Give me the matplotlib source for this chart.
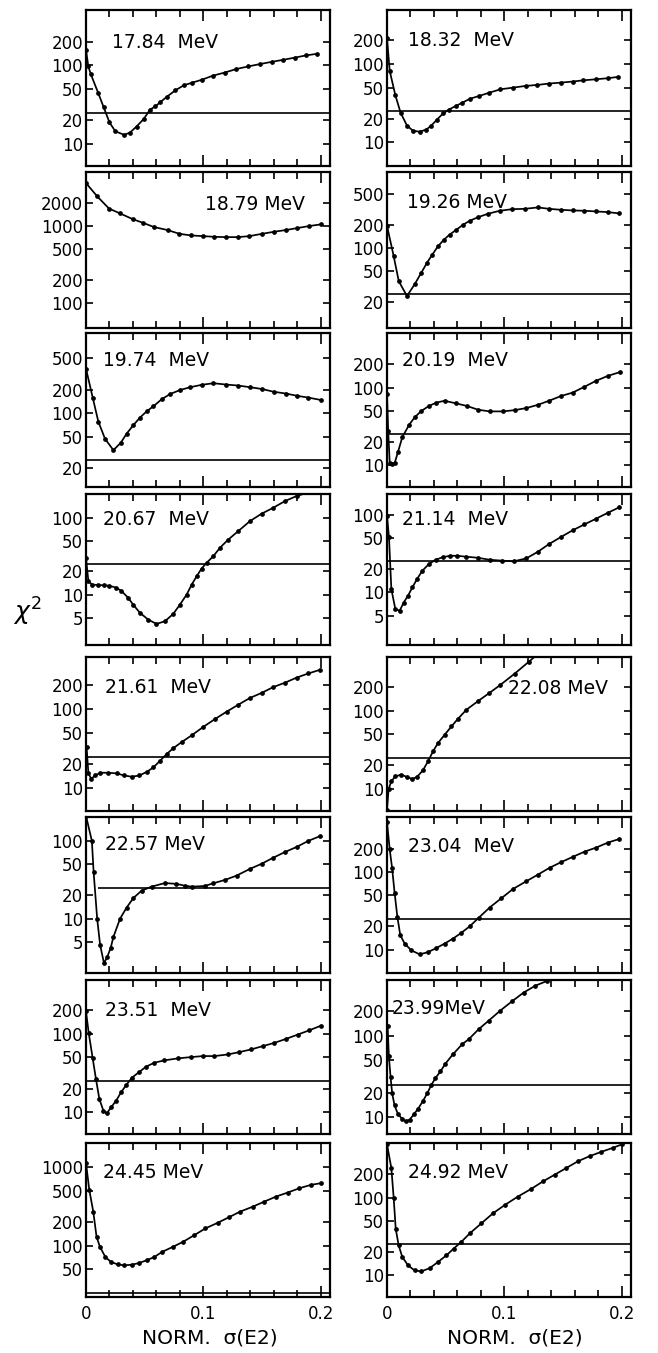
import matplotlib
matplotlib.use('Agg')
import matplotlib.pyplot as plt
from matplotlib.ticker import FixedLocator, NullLocator, MultipleLocator, NullFormatter

plt.rcParams['font.family'] = ['DejaVu Sans']

CHI2_LIMIT = 25.0

# ---------------- data ----------------
# left column
x_1784 = [0, 0.002, 0.004, 0.0105, 0.015, 0.02, 0.025, 0.0325, 0.0375, 0.043, 0.049, 0.0545, 0.059, 0.063,
          0.069, 0.076, 0.083, 0.09, 0.0985, 0.108, 0.118, 0.128, 0.138, 0.148, 0.158, 0.168, 0.178, 0.187, 0.197]
chi_1784 = [158, 97, 78, 44, 29.4, 18.7, 14.4, 13.0, 13.9, 16.6, 20.6, 27.2, 30, 33.7,
            40, 48, 55.5, 60, 65.6, 74, 81, 90, 97, 104, 111, 118, 126, 134, 141]

x_1879 = [0, 0.0096, 0.0196, 0.0287, 0.0401, 0.0482, 0.0579, 0.0695, 0.0794, 0.0894, 0.0993, 0.109, 0.119,
          0.129, 0.139, 0.150, 0.160, 0.170, 0.180, 0.190, 0.200]
chi_1879 = [3600, 2414, 1683, 1463, 1222, 1105, 970, 887, 794, 756, 741, 726, 719,
            719, 740, 794, 843, 887, 942, 1000, 1051]

x_1974 = [0, 0.0057, 0.0105, 0.0162, 0.0233, 0.0295, 0.0346, 0.0403, 0.046, 0.0516, 0.0573, 0.0644, 0.0715,
          0.080, 0.0885, 0.0985, 0.1084, 0.119, 0.1296, 0.140, 0.150, 0.160, 0.170, 0.180, 0.189, 0.2]
chi_1974 = [370, 158, 77.6, 46.8, 33.5, 41.4, 54.5, 70, 87.7, 105, 122, 150, 175,
            197, 214, 230, 241, 232, 225, 214, 203, 187, 178, 166, 158, 147]

x_2067 = [0, 0.002, 0.005, 0.01, 0.015, 0.02, 0.0255, 0.03, 0.0359, 0.0401, 0.0458, 0.0529, 0.06, 0.0672,
          0.0743, 0.08, 0.0857, 0.09, 0.0942, 0.0984, 0.1027, 0.1084, 0.114, 0.1211, 0.1296, 0.1396, 0.1495,
          0.1594, 0.1694, 0.1793, 0.19, 0.2]
chi_2067 = [30, 15, 13.5, 13.3, 13.2, 13.0, 12.3, 11.2, 9.06, 7.4, 5.8, 4.72, 4.14, 4.49,
            5.6, 7.4, 10, 13.5, 17.3, 21.8, 25.9, 31.6, 40.6, 52, 67, 90.5, 113,
            135, 165, 192, 215, 240]

x_2161 = [0.0005, 0.002, 0.0043, 0.008, 0.0119, 0.019, 0.0264, 0.0324, 0.039, 0.0455, 0.0517, 0.0573, 0.063,
          0.0687, 0.0743, 0.0814, 0.0899, 0.0999, 0.1098, 0.1197, 0.1296, 0.1396, 0.1495, 0.1594, 0.1694,
          0.1793, 0.1892, 0.1991]
chi_2161 = [33, 15.6, 13.1, 14.4, 15.6, 15.6, 15.3, 14.4, 13.9, 14.4, 16, 18.2, 22.1,
            27, 32, 38.2, 46.5, 59.7, 75, 93, 114, 139, 161, 191, 217,
            252, 284, 316]

x_2257 = [0, 0.005, 0.0065, 0.0095, 0.012, 0.0153, 0.018, 0.021, 0.0233, 0.029, 0.0346, 0.0403, 0.0473,
          0.0558, 0.0672, 0.077, 0.0843, 0.09, 0.101, 0.1084, 0.1183, 0.1282, 0.1396, 0.1495, 0.1594,
          0.1694, 0.1793, 0.1892, 0.1991]
chi_2257 = [210, 100, 39.5, 10, 4.6, 2.68, 3.2, 4.2, 5.8, 10, 13.9, 18.4, 22.9,
            25.8, 28.7, 28, 26.5, 25.8, 26.3, 28.5, 31.5, 35.8, 43.7, 50.8, 60.8,
            72, 83.6, 100, 115]

x_2351 = [0, 0.0023, 0.0057, 0.0085, 0.0114, 0.0148, 0.0177, 0.0214, 0.0256, 0.0298, 0.0341, 0.0392, 0.0454,
          0.0511, 0.0582, 0.0667, 0.078, 0.0894, 0.0993, 0.1092, 0.1206, 0.1305, 0.1404, 0.1503, 0.1603,
          0.1702, 0.1801, 0.19, 0.1999]
chi_2351 = [191, 102, 48.4, 26.3, 14.7, 10.5, 9.7, 11.6, 14, 17.9, 22.1, 27.6, 32.6,
            38, 42.7, 45.7, 48.4, 50.3, 51.8, 51.8, 54.3, 58.2, 62.9, 69.2, 76.2,
            85.6, 97, 110, 126]

x_2445 = [0, 0.0028, 0.0062, 0.009, 0.0119, 0.0165, 0.0213, 0.027, 0.0326, 0.0392, 0.0454, 0.0516, 0.0582,
          0.0647, 0.0738, 0.0823, 0.0922, 0.1016, 0.1121, 0.1215, 0.1311, 0.1419, 0.1518, 0.1617, 0.1716,
          0.1816, 0.1915, 0.2]
chi_2445 = [1137, 517, 273, 130, 97, 72, 62.4, 58, 56.5, 57.6, 60.6, 65.5, 72.2,
            83.7, 97, 112, 137, 167, 197, 231, 273, 316, 367, 425, 478,
            543, 600, 630]

# right column
x_1832 = [0, 0.0023, 0.0071, 0.0116, 0.017, 0.0221, 0.0278, 0.0335, 0.0377, 0.0426, 0.0477, 0.0528, 0.0584,
          0.0641, 0.0704, 0.078, 0.0868, 0.0965, 0.107, 0.118, 0.128, 0.138, 0.148, 0.158, 0.167, 0.178,
          0.188, 0.197]
chi_1832 = [215, 82, 40, 23.9, 16.4, 14.1, 13.7, 14.6, 16.4, 19.6, 23.4, 26.3, 29.1,
            32.1, 36, 39, 43, 47.6, 50, 52.6, 54.2, 56.4, 58, 59.8, 62, 64,
            66, 68.7]

x_1926 = [0, 0.0057, 0.01, 0.017, 0.0235, 0.0292, 0.034, 0.0386, 0.0434, 0.0485, 0.0533, 0.059, 0.0647,
          0.0704, 0.0775, 0.086, 0.0959, 0.1067, 0.1172, 0.1285, 0.138, 0.148, 0.158, 0.168, 0.178, 0.188,
          0.1975]
chi_1926 = [194, 78, 37, 23.7, 33.6, 47.5, 64, 82, 105, 128, 149, 172, 200,
            225, 251, 278, 304, 319, 322, 336, 322, 313, 307, 304, 298, 292,
            281]

x_2019 = [0, 0.001, 0.0023, 0.004, 0.0065, 0.0094, 0.013, 0.0187, 0.0235, 0.0292, 0.0357, 0.042, 0.049,
          0.059, 0.068, 0.0775, 0.0874, 0.0987, 0.1087, 0.1186, 0.1285, 0.1379, 0.1484, 0.158, 0.168, 0.178,
          0.188, 0.1986]
chi_2019 = [82, 28, 10.9, 10.5, 10.7, 15, 23, 33, 41.4, 50, 58, 64, 67.6,
            62.5, 58, 51.9, 49.4, 49.4, 51.3, 54.5, 60, 67.6, 78, 86, 102, 122,
            141, 158]

x_2114 = [0, 0.0017, 0.0037, 0.0071, 0.0108, 0.0142, 0.0179, 0.0216, 0.0255, 0.0301, 0.0357, 0.0414, 0.0477,
          0.0539, 0.0596, 0.0675, 0.0774, 0.0874, 0.0982, 0.1078, 0.1186, 0.1285, 0.1379, 0.1484, 0.158,
          0.168, 0.178, 0.188, 0.1974]
chi_2114 = [97, 51, 11, 6.1, 5.8, 7.4, 9.06, 11.6, 14.8, 19, 23.2, 26.3, 28.5,
            29.6, 29.6, 28.8, 27.9, 26.3, 25.6, 25.1, 27.4, 33.4, 41.9, 52, 63,
            75, 89, 106, 124]

x_2208 = [0, 0.0014, 0.0037, 0.0071, 0.0122, 0.017, 0.0216, 0.0255, 0.0306, 0.0349, 0.0392, 0.0434, 0.0491,
          0.0548, 0.0604, 0.0675, 0.0774, 0.0868, 0.0965, 0.1087, 0.1208, 0.13]
chi_2208 = [5.4, 10, 12.5, 14.5, 15.2, 14.2, 13.4, 14.2, 17.3, 22.5, 30.3, 38.6, 49.4,
            63, 79, 103, 133, 168, 215, 300, 427, 560]

x_2304 = [0, 0.0023, 0.0043, 0.0065, 0.0088, 0.0113, 0.015, 0.0207, 0.0278, 0.0349, 0.042, 0.0491, 0.0562,
          0.0633, 0.0704, 0.0783, 0.0874, 0.0973, 0.1072, 0.1186, 0.1285, 0.1384, 0.1484, 0.1583, 0.1682,
          0.1782, 0.1881, 0.1974]
chi_2304 = [440, 198, 114, 53.7, 26.7, 15.4, 12, 9.8, 8.7, 9.3, 10.5, 12, 13.9,
            16.5, 20, 26, 35, 46, 60.6, 76.4, 93, 114, 135, 158, 184,
            208, 241, 267]

x_2399 = [0.0005, 0.0016, 0.003, 0.0044, 0.0064, 0.0092, 0.0129, 0.0158, 0.0192, 0.0228, 0.0265, 0.0305,
          0.0342, 0.0378, 0.0412, 0.0455, 0.0497, 0.056, 0.0639, 0.0696, 0.0781, 0.0866, 0.0965, 0.1064,
          0.1163, 0.1262, 0.1361, 0.146]
chi_2399 = [133, 56, 31.6, 19.6, 14, 11, 9.5, 8.9, 9.26, 10.8, 12.7, 15.7,
            19.6, 24.9, 30.2, 36.5, 45.5, 59, 78.7, 91, 121, 154, 205, 266,
            341, 414, 473, 540]

x_2492 = [0, 0.0037, 0.0057, 0.0074, 0.0099, 0.013, 0.0179, 0.0235, 0.0292, 0.0363, 0.0434, 0.0505, 0.0567,
          0.0633, 0.0704, 0.0803, 0.0902, 0.1002, 0.1115, 0.1228, 0.1328, 0.1427, 0.1526, 0.1626, 0.1725,
          0.1824, 0.1923, 0.2]
chi_2492 = [480, 239, 98, 40, 24.4, 17.3, 13.5, 11.6, 11.3, 12.4, 14.9, 18.1, 22.1,
            27, 34.6, 46.6, 62.7, 80, 103, 129, 161, 196, 239, 292, 339,
            385, 434, 480]

labels_left = ['17.84  MeV', '18.79 MeV', '19.74  MeV', '20.67  MeV',
               '21.61  MeV', '22.57 MeV', '23.51  MeV', '24.45 MeV']
labels_right = ['18.32  MeV', '19.26 MeV', '20.19  MeV', '21.14  MeV',
                '22.08 MeV', '23.04  MeV', '23.99MeV', '24.92 MeV']

yticks_left = [[10, 20, 50, 100, 200], [100, 200, 500, 1000, 2000], [20, 50, 100, 200, 500],
               [5, 10, 20, 50, 100], [10, 20, 50, 100, 200], [5, 10, 20, 50, 100],
               [10, 20, 50, 100, 200], [50, 100, 200, 500, 1000]]
yticks_right = [[10, 20, 50, 100, 200], [20, 50, 100, 200, 500], [10, 20, 50, 100, 200],
                [5, 10, 20, 50, 100], [10, 20, 50, 100, 200], [10, 20, 50, 100, 200],
                [10, 20, 50, 100, 200], [10, 20, 50, 100, 200]]

ylim_left = [(5.2, 510), (48, 5000), (11.3, 1060), (2.2, 204), (5.1, 460), (2.0, 203), (5.3, 480), (22.3, 2050)]
ylim_right = [(5.0, 490), (9.1, 970), (5.3, 500), (2.1, 185), (5.2, 490), (5.0, 515), (6.2, 487), (5.3, 500)]

x_ticks = [0, 0.1, 0.2]
x_tick_labels = ['0', '0.1', '0.2']

left_series = [(x_1784, chi_1784), (x_1879, chi_1879), (x_1974, chi_1974), (x_2067, chi_2067),
               (x_2161, chi_2161), (x_2257, chi_2257), (x_2351, chi_2351), (x_2445, chi_2445)]
right_series = [(x_1832, chi_1832), (x_1926, chi_1926), (x_2019, chi_2019), (x_2114, chi_2114),
                (x_2208, chi_2208), (x_2304, chi_2304), (x_2399, chi_2399), (x_2492, chi_2492)]

# limit line start (x) for the one panel where it does not start at 0
limit_start = {('L', 5): 0.01}

# ---------------- layout ----------------
W, H = 658, 1353
fig = plt.figure(figsize=(W / 100, H / 100), dpi=100)

col_x = {'L': 86, 'R': 387}
col_w = 244
row_top = [10, 172, 333, 494, 657, 817, 980, 1143]
row_bot = [166, 328, 487, 645, 811, 973, 1134, 1297]

label_pos_left = [(112, 42), (205, 204), (103, 360), (103, 520), (105, 687), (105, 845), (105, 1010), (103, 1173)]
label_pos_right = [(408, 40), (407, 203), (402, 360), (402, 520), (508, 688), (408, 847), (392, 1008), (408, 1173)]

XMAX = 0.2077
LW_FRAME = 1.6


def make_panel(col, i, xs, ys, yt, yl, label, lpos):
    x0 = col_x[col]
    ax = fig.add_axes([x0 / W, 1 - row_bot[i] / H, col_w / W, (row_bot[i] - row_top[i]) / H])
    ax.set_yscale('log')
    ax.set_xlim(0, XMAX)
    ax.set_ylim(*yl)
    ax.plot(xs, ys, color='black', lw=1.25, marker='o', ms=2.4, mfc='black', mec='black', zorder=3)
    xs0 = limit_start.get((col, i), 0)
    ax.hlines(CHI2_LIMIT, xs0, XMAX, color='black', lw=1.2, zorder=2)
    ax.yaxis.set_major_locator(FixedLocator(yt))
    ax.yaxis.set_minor_locator(NullLocator())
    ax.yaxis.set_minor_formatter(NullFormatter())
    ax.set_yticklabels([str(v) for v in yt])
    ax.xaxis.set_major_locator(FixedLocator(x_ticks))
    ax.xaxis.set_minor_locator(MultipleLocator(0.02))
    if i == 7:
        ax.set_xticklabels(x_tick_labels)
    else:
        ax.set_xticklabels([])
    ax.tick_params(axis='y', which='major', direction='in', left=True, right=True,
                   length=5, width=1.2, pad=2, labelsize=12)
    ax.tick_params(axis='x', which='major', direction='in', top=True, bottom=True,
                   length=8, width=1.2, pad=6, labelsize=12)
    ax.tick_params(axis='x', which='minor', direction='in', top=True, bottom=True,
                   length=5, width=1.2)
    for s in ax.spines.values():
        s.set_linewidth(LW_FRAME)
    fig.text(lpos[0] / W, 1 - lpos[1] / H, label, fontsize=13.5, ha='left', va='center')
    return ax


for i in range(8):
    make_panel('L', i, left_series[i][0], left_series[i][1], yticks_left[i], ylim_left[i],
               labels_left[i], label_pos_left[i])
    make_panel('R', i, right_series[i][0], right_series[i][1], yticks_right[i], ylim_right[i],
               labels_right[i], label_pos_right[i])

fig.text(27 / W, 1 - 612 / H, r'$\chi^2$', fontsize=18, ha='center', va='center')
fig.text(210 / W, 1 - 1338 / H, 'NORM.  σ(E2)', fontsize=14.5, ha='center', va='center')
fig.text(515 / W, 1 - 1338 / H, 'NORM.  σ(E2)', fontsize=14.5, ha='center', va='center')

fig.savefig('out.png', dpi=100)
